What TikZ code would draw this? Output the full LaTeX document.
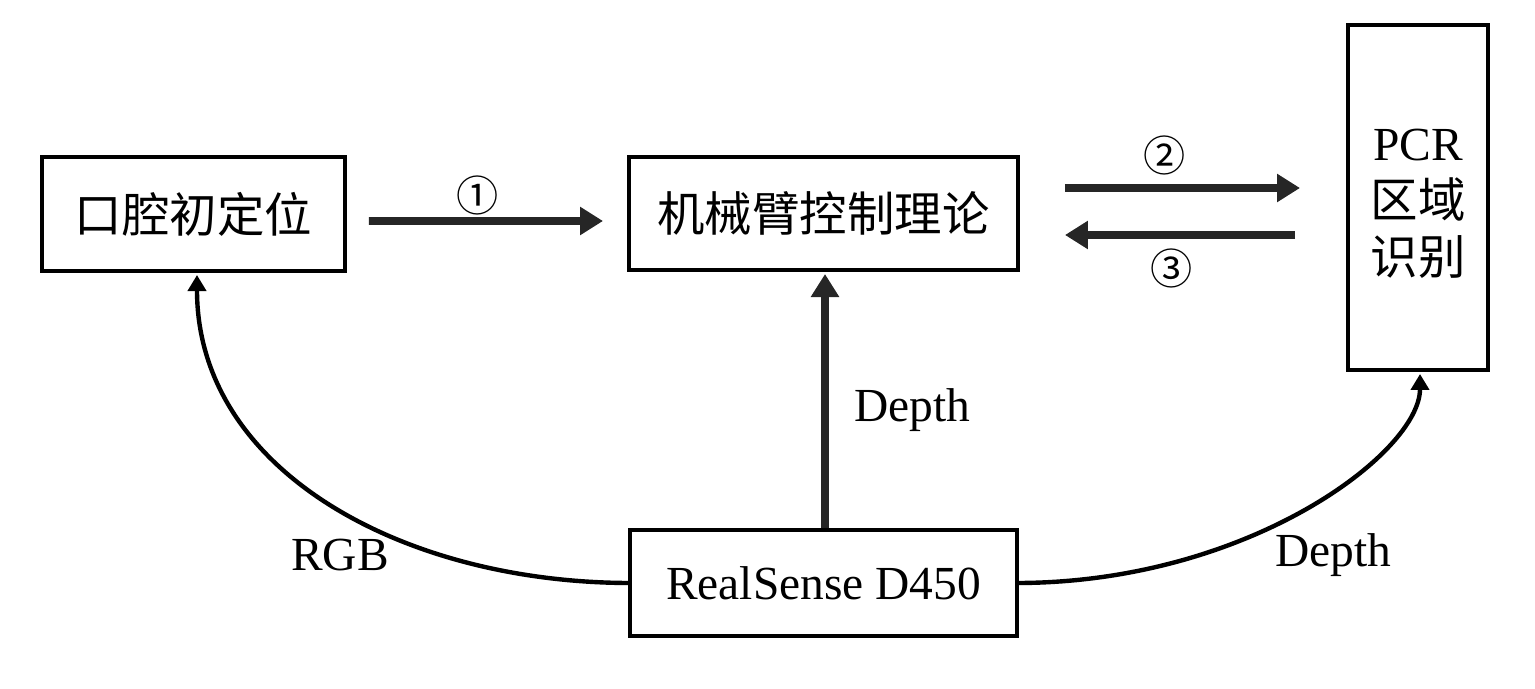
\documentclass[tikz,border=0pt]{standalone}
\usepackage{fontspec}
\setmainfont{Liberation Serif}
\newfontfamily\cjk{Noto Sans CJK SC}
\usetikzlibrary{arrows.meta,calc}
\definecolor{arrgray}{HTML}{262626}
\begin{document}
\begin{tikzpicture}[x=0.02cm,y=-0.02cm,
  box/.style={draw=black,line width=2.3pt,inner sep=0pt,font=\fontsize{27}{32}\selectfont},
  straightarr/.style={draw=arrgray,line width=4.4pt,-{Triangle[length=0.46cm,width=0.54cm]}},
  curvearr/.style={draw=black,line width=2.5pt,-{Triangle[length=0.32cm,width=0.36cm]}},
  lbl/.style={font=\fontsize{27}{32}\selectfont,inner sep=0pt},
  num/.style={font=\cjk\fontsize{24}{28}\selectfont,inner sep=0pt}]
\useasboundingbox (0,0) rectangle (1535,689);
\node[box,minimum width=6.06cm,minimum height=2.28cm] (oral) at (193.5,214) {\cjk 口腔初定位};
\node[box,minimum width=7.78cm,minimum height=2.26cm] (ctrl) at (823.5,213.5) {\cjk 机械臂控制理论};
\node[box,minimum width=2.8cm,minimum height=6.9cm] (pcr) at (1418,197.5) {};
\node[lbl,align=center,font=\fontsize{27}{32.5}\selectfont] (pcrtext) at (1418,204) {PCR\\{\cjk 区域}\\{\cjk 识别}};
\node[box,minimum width=7.74cm,minimum height=2.12cm] (rs) at (823.5,583) {RealSense D450};
% straight arrows
\draw[straightarr] ($(oral.east)+(22,7)$) -- ($(ctrl.west)+(-24,7.5)$);
\draw[straightarr] ($(ctrl.east)+(45,-25.5)$) -- ($(pcr.west)+(-46,-9.5)$);
\draw[straightarr] ($(pcr.west)+(-51,37.5)$) -- ($(ctrl.east)+(45,21.5)$);
\draw[straightarr] ($(rs.north)+(1.5,0)$) -- ($(ctrl.south)+(1.5,2)$);
% curves
\draw[curvearr] (rs.west) .. controls (400,582) and ($(oral.south)+(3.5,196)$) .. ($(oral.south)+(3.5,2)$);
\draw[curvearr] (rs.east) .. controls (1250,582) and ($(pcr.south)+(2,80)$) .. ($(pcr.south)+(2,2)$);
% labels
\node[num] (n1) at (478,195) {①};
\node[num] (n2) at (1165,155) {②};
\node[num] (n3) at (1172,268) {③};
\node[lbl] (d1) at (912,410) {Depth};
\node[lbl] (rgb) at (340,555) {RGB};
\node[lbl] (d2) at (1333,555) {Depth};
\end{tikzpicture}
\end{document}
